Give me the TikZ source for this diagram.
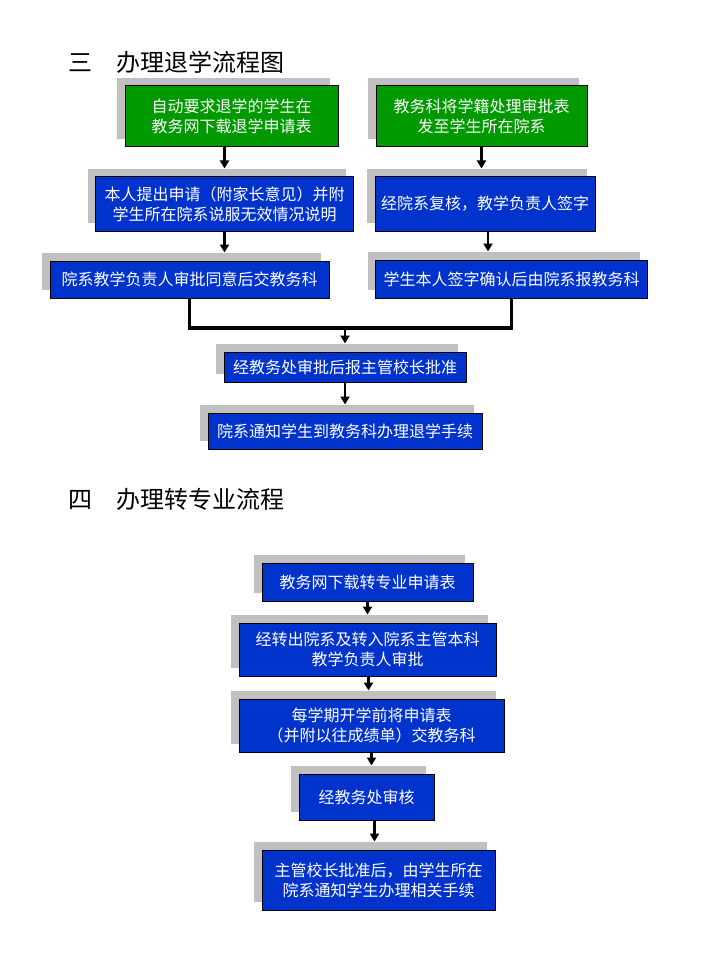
\documentclass[tikz,border=0pt]{standalone}
\usepackage{fontspec}
\newfontfamily\cjk{Noto Sans CJK SC}
\usetikzlibrary{arrows.meta,shadows}
\definecolor{boxgreen}{RGB}{0,153,0}
\definecolor{boxblue}{RGB}{0,51,204}
\definecolor{shadowgray}{RGB}{192,192,192}

\begin{document}
\begin{tikzpicture}[
  x=1pt, y=-1pt,
  every node/.style = {inner sep=0pt},
  title/.style = {anchor=west, font=\cjk\fontsize{24}{28}\selectfont},
  stepbox/.style = {shape=rectangle, draw=black, line width=1pt, fill=boxblue,
    text=white, align=center, font=\cjk\fontsize{16}{20}\selectfont,
    drop shadow={shadow xshift=-8pt, shadow yshift=8pt, opacity=1, fill=shadowgray}},
  startbox/.style = {stepbox, fill=boxgreen},
  arr/.style = {line width=2.5pt, -{Triangle[width=9pt,length=8pt]}},
  merge/.style = {line width=3.5pt}
]
  \useasboundingbox (0,0) rectangle (720,960);

  % 三 办理退学流程图
  \node[title] (t1) at (68,62) {三　办理退学流程图};
  \node[startbox, minimum width=213pt, minimum height=61pt] (g1) at (231.5,116.5)
    {自动要求退学的学生在\\教务网下载退学申请表};
  \node[startbox, minimum width=211pt, minimum height=61pt] (g2) at (481.5,116.5)
    {教务科将学籍处理审批表\\发至学生所在院系};
  \node[stepbox, minimum width=258pt, minimum height=54pt] (b1) at (224.5,204)
    {本人提出申请（附家长意见）并附\\学生所在院系说服无效情况说明};
  \node[stepbox, minimum width=220pt, minimum height=54pt] (b2) at (485,204)
    {经院系复核，教学负责人签字};
  \node[stepbox, minimum width=279pt, minimum height=37pt] (b3) at (189.5,279.5)
    {院系教学负责人审批同意后交教务科};
  \node[stepbox, minimum width=272pt, minimum height=38pt] (b4) at (511.5,279)
    {学生本人签字确认后由院系报教务科};
  \coordinate (m) at (345,328);
  \node[stepbox, minimum width=242pt, minimum height=30pt] (b5) at (345,367)
    {经教务处审批后报主管校长批准};
  \node[stepbox, minimum width=274pt, minimum height=36pt] (b6) at (345,431)
    {院系通知学生到教务科办理退学手续};

  \draw[arr] (b1.north |- g1.south) -- ([yshift=8pt]b1.north);
  \draw[arr] (g2.south) -- ([yshift=8pt]g2.south |- b2.north);
  \draw[arr] (b1.south) -- ([yshift=8pt]b1.south |- b3.north);
  \draw[arr] ([xshift=3pt]b2.south) -- ([xshift=3pt,yshift=8pt]b2.south |- b4.north);
  \draw[merge] (b3.south) |- (m) -| (b4.south);
  \draw[arr] (m) -- ([yshift=8pt]b5.north);
  \draw[arr] (b5.south) -- ([yshift=8pt]b6.north);

  % 四 办理转专业流程
  \node[title] (t2) at (68,499) {四　办理转专业流程};
  \node[stepbox, minimum width=211pt, minimum height=38pt] (c1) at (367.5,582)
    {教务网下载转专业申请表};
  \node[stepbox, minimum width=257pt, minimum height=53pt] (c2) at (367.5,649.5)
    {经转出院系及转入院系主管本科\\教学负责人审批};
  \node[stepbox, minimum width=265pt, minimum height=53pt] (c3) at (371.5,725.5)
    {每学期开学前将申请表\\（并附以往成绩单）交教务科};
  \node[stepbox, minimum width=135pt, minimum height=46pt] (c4) at (366.5,797)
    {经教务处审核};
  \node[stepbox, minimum width=233pt, minimum height=60pt] (c5) at (378.5,880)
    {主管校长批准后，由学生所在\\院系通知学生办理相关手续};

  \draw[arr] (c1.south) -- ([yshift=8pt]c1.south |- c2.north);
  \draw[arr] ([xshift=1pt]c2.south) -- ([xshift=1pt,yshift=8pt]c2.south |- c3.north);
  \draw[arr] (c3.south) -- ([yshift=8pt]c3.south |- c4.north);
  \draw[arr] ([xshift=8pt]c4.south) -- ([xshift=8pt,yshift=8pt]c4.south |- c5.north);
\end{tikzpicture}
\end{document}
